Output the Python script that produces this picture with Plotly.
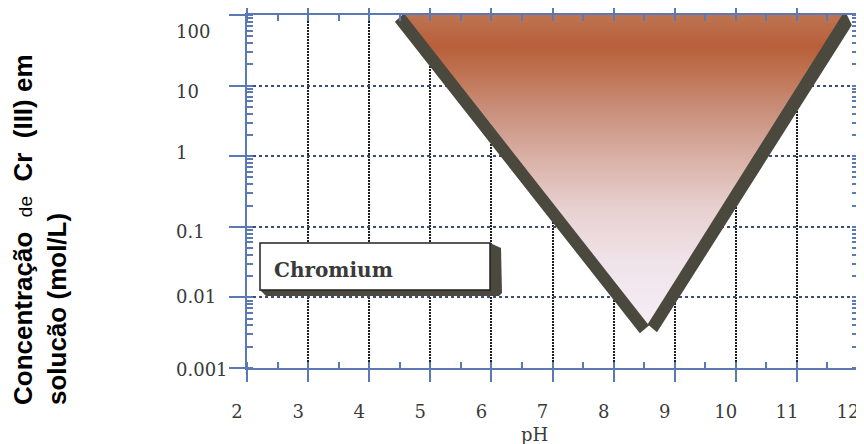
import math
import plotly.graph_objects as go

# ---- data ----
ph_ticks = [2, 3, 4, 5, 6, 7, 8, 9, 10, 11, 12]
conc_ticks = [0.001, 0.01, 0.1, 1, 10, 100]
conc_ticktext = ["0.001", "0.01", "0.1", "1", "10", "100"]

# solubility region of Cr(III) (inverted triangle)
region_ph = [4.59, 11.74, 8.56, 4.59]
region_conc = [100, 100, 0.0042, 100]

# dark 3-D edge band behind the region
band_ph = [4.42, 4.54, 11.82, 11.90, 8.71, 8.58, 8.43, 4.42]
band_conc = [80, 100, 100, 72, 0.0032, 0.0040, 0.0031, 80]

box_label = "Chromium"
x_title = "pH"
y_title_1 = ("Concentração&nbsp;&nbsp;<span style='font-size:19px;font-weight:normal'>de</span>"
             "&nbsp;&nbsp;Cr&nbsp;&nbsp;(III)&nbsp;em")
y_title_2 = "solucão (mol/L)"

# ---- layout geometry ----
# the page body has an 8 px margin, so the figure is 8 px smaller and all
# positions below are given in page pixels of the 864x444 window
OFF = 8
W, H = 864 - OFF, 444 - OFF
PL, PR, PT, PB = 247, 858, 15, 368          # plot area in page pixels
L, T = PL - OFF, PT - OFF
R, B = W - (PR - OFF), H - (PB - OFF)
PW, PH = PR - PL, PB - PT


def px(x):
    return (x - PL) / PW


def py(y):
    return (PB - y) / PH


AXIS = "#5b7ab3"
TXT = "#3a3a3a"
DARK = "#4b483e"
TICKFONT = dict(family="DejaVu Serif", size=18, color=TXT)
# small vertical offsets of the (left-aligned) y labels, as printed
ylabel_shift = [-1, 1, -5, 4, -6, -16]

fig = go.Figure()

fig.add_trace(go.Scatter(
    x=band_ph, y=band_conc, mode="lines", fill="toself",
    fillcolor=DARK, line=dict(width=0, color=DARK), hoverinfo="skip",
    showlegend=False))

fig.add_trace(go.Scatter(
    x=region_ph, y=region_conc, mode="lines", fill="toself",
    line=dict(width=0, color="#c07050"), hoverinfo="skip", showlegend=False,
    fillgradient=dict(type="vertical", colorscale=[
        [0.00, "#f5eef5"],
        [0.20, "#f0e3ea"],
        [0.37, "#e8d1d1"],
        [0.53, "#dab2a8"],
        [0.69, "#c98f7c"],
        [0.81, "#bf7352"],
        [0.90, "#b85f3a"],
        [1.00, "#bd7452"],
    ])))

fig.update_xaxes(
    range=[2, 12], tickvals=ph_ticks, ticks="outside", ticklen=12,
    tickwidth=2, tickcolor=AXIS, showline=True, linecolor=AXIS, linewidth=2,
    mirror="allticks", showgrid=True, gridcolor="#1e1e1e", gridwidth=2,
    griddash="2px,1px", zeroline=False, automargin=False,
    ticklabeloverflow="allow",
    minor=dict(dtick=0.5, ticks="inside", ticklen=6, tickwidth=2,
               tickcolor=AXIS, showgrid=False),
    tickfont=TICKFONT, ticklabelstandoff=14, ticklabelshift=-10)

fig.update_yaxes(
    type="log", range=[-3, 2], tickvals=conc_ticks, showticklabels=False,
    ticks="outside", ticklen=16, tickwidth=2, tickcolor=AXIS, showline=True,
    linecolor=AXIS, linewidth=2, mirror="allticks", showgrid=True,
    gridcolor="#3e4c78", gridwidth=1.5, griddash="3px,3px", zeroline=False,
    automargin=False,
    minor=dict(dtick="D1", ticks="inside", ticklen=6, tickwidth=1.5,
               tickcolor=AXIS, showgrid=False))

# y tick labels, left-aligned as in the printed figure
for v, t, dy in zip(conc_ticks, conc_ticktext, ylabel_shift):
    fig.add_annotation(text=t, xref="paper", yref="y", x=px(174),
                       y=math.log10(v), xanchor="left", yanchor="middle",
                       yshift=dy, showarrow=False, font=TICKFONT)

# Chromium label box with dark 3-D shadow
shadow_pts = [(490, 243), (501, 248), (502, 293), (499, 296), (266, 296), (260, 290)]
path = "M " + " L ".join(f"{px(a):.5f},{py(b):.5f}" for a, b in shadow_pts) + " Z"
fig.add_shape(type="path", path=path, xref="paper", yref="paper",
              fillcolor=DARK, line=dict(width=0), layer="above")
fig.add_shape(type="rect", xref="paper", yref="paper",
              x0=px(260), x1=px(490), y0=py(290), y1=py(243),
              fillcolor="white", line=dict(color="#222222", width=1.5),
              layer="above")

fig.add_annotation(text=f"<b>{box_label}</b>", xref="paper", yref="paper",
                   x=px(272), y=py(270), xanchor="left", yanchor="middle",
                   showarrow=False,
                   font=dict(family="DejaVu Serif", size=20, color=TXT))

fig.add_annotation(text=x_title, xref="paper", yref="paper",
                   x=px(534), y=py(434), xanchor="center", yanchor="middle",
                   showarrow=False, font=TICKFONT)

fig.add_annotation(text=f"<b>{y_title_1}<br>{y_title_2}</b>",
                   xref="paper", yref="paper", x=px(40), y=py(229),
                   xanchor="center", yanchor="middle", textangle=-90,
                   align="left", showarrow=False,
                   font=dict(family="Liberation Sans", size=26, color="#000000"))

fig.update_layout(
    width=W, height=H, margin=dict(l=L, r=R, t=T, b=B, autoexpand=False),
    plot_bgcolor="white", paper_bgcolor="white", showlegend=False)

fig.write_html("out.html")
